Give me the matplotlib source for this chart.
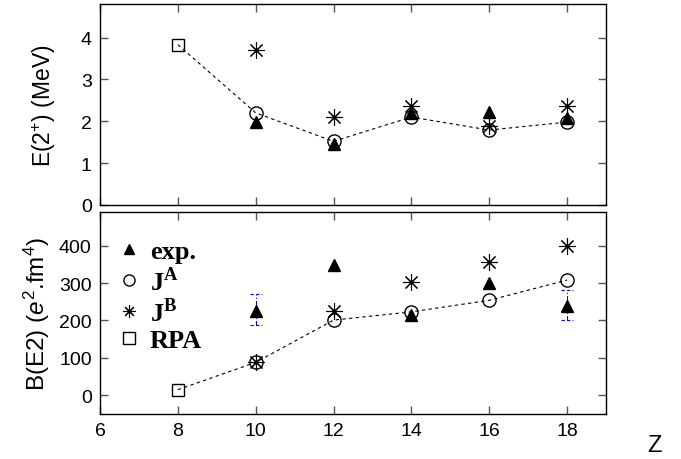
import numpy as np
import matplotlib
matplotlib.use("Agg")
import matplotlib.pyplot as plt
from matplotlib.lines import Line2D

plt.rcParams['font.family'] = ['Liberation Sans', 'DejaVu Sans']
plt.rcParams['mathtext.fontset'] = 'custom'
plt.rcParams['mathtext.rm'] = 'Liberation Sans'
plt.rcParams['mathtext.it'] = 'Liberation Sans:italic'
plt.rcParams['mathtext.bf'] = 'Liberation Serif:bold'

# donnees
Z = [10, 12, 14, 16, 18]
Z_rpa = [8]

# E(2+) en MeV
e_exp = [1.98, 1.45, 2.2, 2.21, 2.08]
e_ja = [2.2, 1.52, 2.1, 1.79, 1.98]
e_jb = [3.69, 2.1, 2.37, 1.88, 2.36]
e_rpa = [3.83]

# B(E2) en e^2 fm^4
b_exp = [225, 348, 214, 299, 238]
b_exp_lo = [187, 348, 214, 299, 201]
b_exp_hi = [270, 348, 214, 299, 281]
b_ja = [88, 201, 223, 254, 308]
b_jb = [88, 225, 304, 357, 400]
b_rpa = [15]
err_idx = [0, 4]

fig = plt.figure(figsize=(6.81, 4.6), dpi=100)
ax1 = fig.add_axes([100/681, 1-206/460, 506/681, 201/460])
ax2 = fig.add_axes([100/681, 1-415/460, 506/681, 202/460])

tri = dict(marker='^', color='black', ms=8, ls='none', zorder=5)
circ = dict(marker='o', mfc='none', mec='black', ms=9.5, mew=1, ls='none', zorder=3)
ast = dict(marker=(8, 2, 0), color='black', ms=12, mew=0.8, ls='none', zorder=4)
sq = dict(marker='s', mfc='none', mec='black', ms=9, mew=1, ls='none', zorder=3)


def trace(ax, exp, ja, jb, rpa):
    ax.plot(Z_rpa + Z, rpa + ja, ls=(0, (3, 3)), color='black', lw=0.8, zorder=2)
    ax.plot(Z, ja, **circ)
    ax.plot(Z, jb, **ast)
    ax.plot(Z, jb, marker='.', color='black', ms=3, ls='none', zorder=4)
    ax.plot(Z, exp, **tri)
    ax.plot(Z_rpa, rpa, **sq)


trace(ax1, e_exp, e_ja, e_jb, e_rpa)
trace(ax2, b_exp, b_ja, b_jb, b_rpa)

# barres d'erreur exp.
for i in err_idx:
    ax2.plot([Z[i], Z[i]], [b_exp_lo[i], b_exp_hi[i]], color='blue', lw=0.8,
             ls=(0, (4, 2, 1, 2)), zorder=1)
    for yv in (b_exp_lo[i], b_exp_hi[i]):
        ax2.plot([Z[i]-0.15, Z[i]+0.15], [yv, yv], color='blue', lw=0.8,
                 ls=(0, (3, 2)), zorder=1)

for ax in (ax1, ax2):
    ax.set_xlim(6, 19)
    ax.set_xticks(np.arange(6, 19, 2))
    ax.tick_params(direction='in', length=6, width=1, top=True, right=True,
                   labelsize=14, color='#555555', pad=6)
    for s in ax.spines.values():
        s.set_linewidth(1)

ax1.set_ylim(0, 4.8)
ax1.set_yticks([0, 1, 2, 3, 4])
ax1.tick_params(labelbottom=False)
ax1.set_ylabel('E(2$^{+}$) (MeV)', fontsize=16.5, labelpad=16)

ax2.set_ylim(-50, 490)
ax2.set_yticks([0, 100, 200, 300, 400])
ax2.set_ylabel('B(E2) ($\\mathit{e}^{2}$.fm$^{4}$)', fontsize=17.5, labelpad=5)
fig.text(655/681, 1-446/460, 'Z', fontsize=17, ha='center', va='center')

handles = [
    Line2D([], [], marker='^', color='black', ms=7, ls='none'),
    Line2D([], [], marker='o', mfc='none', mec='black', ms=8, ls='none'),
    Line2D([], [], marker=(8, 2, 0), color='black', ms=9, mew=0.8, ls='none'),
    Line2D([], [], marker='s', mfc='none', mec='black', ms=8, ls='none'),
]
labels = ['exp.', 'J$^{\\mathbf{A}}$', 'J$^{\\mathbf{B}}$', 'RPA']
ax2.legend(handles, labels, loc='upper left', frameon=False,
           prop={'family': 'Liberation Serif', 'weight': 'bold', 'size': 19},
           handlelength=0.8, handletextpad=0.4, labelspacing=0.12,
           borderaxespad=0.2, bbox_to_anchor=(0.005, 0.94))

fig.savefig('out.png', dpi=100)
